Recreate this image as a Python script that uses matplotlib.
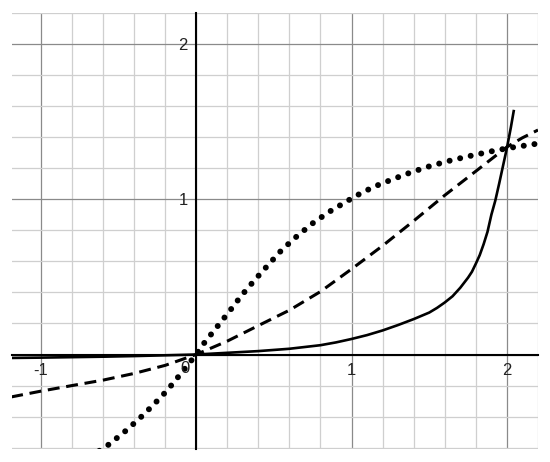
import matplotlib.pyplot as plt
import numpy as np
from matplotlib.ticker import MultipleLocator

plt.rcParams['font.family'] = ['Liberation Sans', 'DejaVu Sans']

# values
solid_x = [-1.19, -1.0, -0.8, -0.6, -0.4, -0.2, 0.0, 0.2, 0.4, 0.6, 0.8, 0.9, 1.0,
           1.1, 1.2, 1.3, 1.4, 1.5, 1.55, 1.6, 1.65, 1.7, 1.75, 1.775, 1.8, 1.825,
           1.85, 1.875, 1.9, 1.925, 1.95, 1.975, 2.0, 2.025, 2.045]
solid_y = [-0.022, -0.02, -0.017, -0.014, -0.01, -0.005, 0.0, 0.011, 0.022, 0.037,
           0.06, 0.078, 0.1, 0.125, 0.155, 0.19, 0.228, 0.27, 0.3, 0.335, 0.375,
           0.43, 0.495, 0.533, 0.585, 0.64, 0.71, 0.79, 0.9, 0.99, 1.1, 1.215,
           1.33, 1.46, 1.575]

dash_x = [-1.19, -1.0, -0.8, -0.6, -0.4, -0.2, 0.0, 0.2, 0.4, 0.6, 0.8, 1.0,
          1.2, 1.4, 1.6, 1.8, 2.0, 2.1, 2.2]
dash_y = [-0.273, -0.236, -0.2, -0.165, -0.122, -0.07, 0.0, 0.086, 0.186, 0.285,
          0.405, 0.55, 0.70, 0.86, 1.025, 1.18, 1.336, 1.395, 1.445]

dot_x = [-0.623, -0.571, -0.468, -0.371, -0.279, -0.189, -0.103, 0.0, 0.051, 0.133,
         0.214, 0.293, 0.379, 0.465, 0.55, 0.647, 0.749, 0.857, 0.968, 1.024,
         1.142, 1.264, 1.384, 1.509, 1.634, 1.762, 1.891, 2.015, 2.144, 2.2]
dot_y = [-0.62, -0.586, -0.504, -0.418, -0.328, -0.234, -0.129, 0.0, 0.073, 0.176,
         0.278, 0.381, 0.482, 0.578, 0.672, 0.76, 0.844, 0.919, 0.985, 1.019,
         1.079, 1.128, 1.173, 1.214, 1.248, 1.278, 1.306, 1.33, 1.349, 1.358]

fig = plt.figure(figsize=(5.5, 4.62), dpi=100)
ax = fig.add_axes([0.0218, 0.0275, 0.9564, 0.945])
ax.set_xlim(-1.185, 2.2)
ax.set_ylim(-0.61, 2.2)

# grid: light every 0.2, darker at integers
ax.xaxis.set_minor_locator(MultipleLocator(0.2))
ax.yaxis.set_minor_locator(MultipleLocator(0.2))
ax.xaxis.set_major_locator(MultipleLocator(1))
ax.yaxis.set_major_locator(MultipleLocator(1))
ax.grid(which='minor', color='#cfcfcf', linewidth=0.9)
ax.grid(which='major', color='#8a8a8a', linewidth=0.9)
ax.set_axisbelow(True)

# labels on integers, none at 0 (drawn separately) or below the axis
ax.xaxis.set_major_formatter(plt.FuncFormatter(lambda v, p: '' if abs(v) < 1e-9 else '%d' % round(v)))
ax.yaxis.set_major_formatter(plt.FuncFormatter(lambda v, p: '' if v < 0.5 else '%d' % round(v)))
ax.tick_params(which='both', length=0, labelsize=12, labelcolor='#222222')
ax.tick_params(axis='x', pad=6)
ax.tick_params(axis='y', pad=6)

for s in ['top', 'right']:
    ax.spines[s].set_visible(False)
ax.spines['left'].set_position(('data', 0))
ax.spines['bottom'].set_position(('data', 0))
ax.spines['left'].set_linewidth(1.5)
ax.spines['bottom'].set_linewidth(1.5)

ax.annotate('0', xy=(0, 0), xytext=(-5, -5), textcoords='offset points',
            ha='right', va='top', fontsize=12, color='#222222')

ax.plot(solid_x, solid_y, color='black', linewidth=1.9, solid_capstyle='butt')
ax.plot(dash_x, dash_y, color='black', linewidth=2.2, linestyle=(0, (3.9, 2.2)),
        dash_capstyle='butt')
ax.plot(dot_x, dot_y, color='black', linewidth=4.3, linestyle=(0, (0.01, 1.8)),
        dash_capstyle='round')

fig.savefig('out.png', dpi=100)
